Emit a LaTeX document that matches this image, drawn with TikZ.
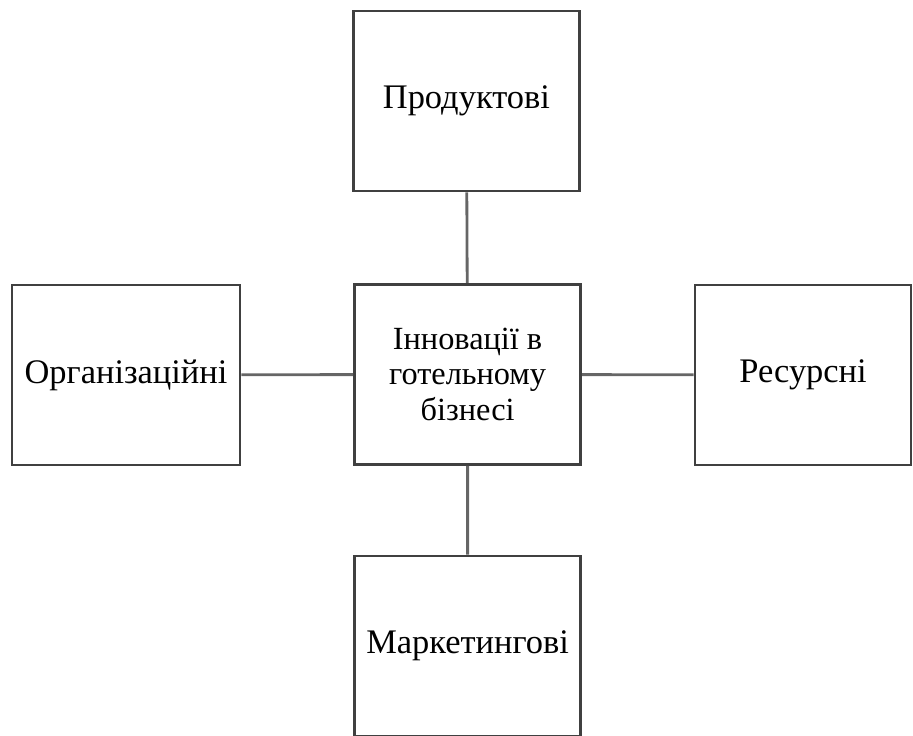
\documentclass[tikz,border=0pt]{standalone}
\usepackage{fontspec}
\setmainfont{Liberation Serif}
\usepackage{tikz}
\usetikzlibrary{positioning}

\tikzset{
    kind/.style = {draw = black!75, line width = 2pt, fill = white,
        minimum width = 5.65cm, minimum height = 4.5cm,
        align = center, font = \fontsize{24.5}{25}\selectfont},
    link/.style = {draw = black!60, line width = 2pt}
}

\begin{document}
\begin{tikzpicture}
    \useasboundingbox (0, 0) rectangle (22.825, -18.4);

    \node[kind, font = \fontsize{23}{25}\selectfont] (innov) at (11.69, -9.36) {Інновації в\\готельному\\бізнесі};
    \node[kind] (prod) at (11.66, -2.525) {Продуктові};
    \node[kind, minimum width = 5.7cm] (org) at (3.15, -9.375) {Організаційні};
    \node[kind, minimum width = 5.4cm] (res) at (20.075, -9.375) {Ресурсні};
    \node[kind] (mark) at (11.69, -16.15) {Маркетингові};

    \draw[link]
        (prod) -- (innov)
        (org) -- (innov)
        (innov) -- (res)
        (innov) -- (mark)
    ;
\end{tikzpicture}
\end{document}
